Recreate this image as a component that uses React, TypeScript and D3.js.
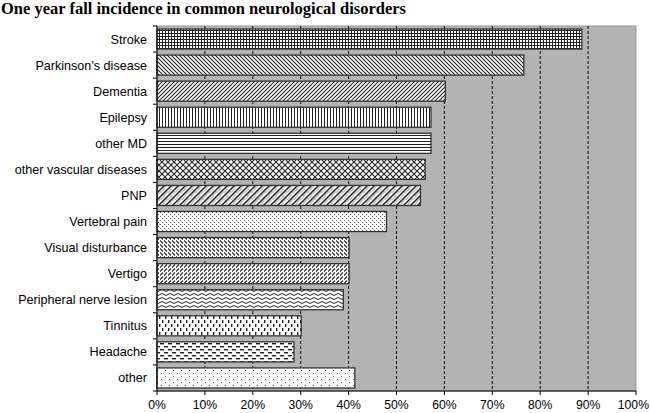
import React from "react";
import * as d3 from "d3";

const categories = [
  "Stroke",
  "Parkinson's disease",
  "Dementia",
  "Epilepsy",
  "other MD",
  "other vascular diseases",
  "PNP",
  "Vertebral pain",
  "Visual disturbance",
  "Vertigo",
  "Peripheral nerve lesion",
  "Tinnitus",
  "Headache",
  "other",
];
const values = [88.7, 76.6, 60.2, 57.2, 57.2, 56.0, 55.0, 47.9, 40.1, 40.1, 38.9, 30.1, 28.6, 41.3];
const patternIds = [
  "grid", "ddiag", "udiag", "vert", "horiz", "diamond", "wideu", "dots25",
  "dashd", "dashu", "wave", "vdash", "hdash", "dots10",
];
const xTicks = [0, 10, 20, 30, 40, 50, 60, 70, 80, 90, 100];

const W = 650, H = 413;
const M = { left: 157, right: 14, top: 26, bottom: 22 };

export default function App() {
  const x = d3.scaleLinear().domain([0, 100]).range([M.left, W - M.right]);
  const y = d3.scaleBand<string>().domain(categories).range([M.top, H - M.bottom]).paddingInner(0.23).paddingOuter(0.115);
  const band = (H - M.bottom - M.top) / categories.length;
  const ink = "#222";
  return (
    <svg width={W} height={H} style={{ position: "absolute", left: 0, top: 0, background: "#fff" }}>
      <defs>
        <pattern id="grid" width="3" height="3" patternUnits="userSpaceOnUse">
          <rect width="3" height="3" fill="#fff" />
          <path d="M0 0.5H3M0.5 0V3" stroke={ink} strokeWidth="1" />
        </pattern>
        <pattern id="ddiag" width="4" height="4" patternUnits="userSpaceOnUse">
          <rect width="4" height="4" fill="#fff" />
          <path d="M-1 -1L5 5M-1 3L1 5M3 -1L5 1" stroke={ink} strokeWidth="1.1" />
        </pattern>
        <pattern id="udiag" width="4" height="4" patternUnits="userSpaceOnUse">
          <rect width="4" height="4" fill="#fff" />
          <path d="M-1 5L5 -1M-1 1L1 -1M3 5L5 3" stroke={ink} strokeWidth="1.1" />
        </pattern>
        <pattern id="vert" width="3" height="3" patternUnits="userSpaceOnUse">
          <rect width="3" height="3" fill="#fff" />
          <path d="M0.5 0V3" stroke={ink} strokeWidth="1" />
        </pattern>
        <pattern id="horiz" width="3" height="3" patternUnits="userSpaceOnUse">
          <rect width="3" height="3" fill="#fff" />
          <path d="M0 0.5H3" stroke={ink} strokeWidth="1" />
        </pattern>
        <pattern id="diamond" width="6" height="6" patternUnits="userSpaceOnUse">
          <rect width="6" height="6" fill="#fff" />
          <path d="M0 0L6 6M6 0L0 6" stroke={ink} strokeWidth="1.1" />
        </pattern>
        <pattern id="wideu" width="7" height="7" patternUnits="userSpaceOnUse">
          <rect width="7" height="7" fill="#fff" />
          <path d="M-1 8L8 -1M-1 1L1 -1M6 8L8 6" stroke={ink} strokeWidth="1.5" />
          <path d="M-1 10.5L10.5 -1M-1 4.5L4.5 -1" stroke="#777" strokeWidth="0.8" />
        </pattern>
        <pattern id="dots25" width="4" height="4" patternUnits="userSpaceOnUse">
          <rect width="4" height="4" fill="#fff" />
          <rect x="0" y="0" width="1" height="1" fill="#555" />
          <rect x="2" y="2" width="1" height="1" fill="#555" />
        </pattern>
        <pattern id="dashd" width="8" height="4" patternUnits="userSpaceOnUse">
          <rect width="8" height="4" fill="#fff" />
          <path d="M0 0.5L3 3.5M4 0.5L7 3.5" stroke={ink} strokeWidth="1.1" />
        </pattern>
        <pattern id="dashu" width="8" height="4" patternUnits="userSpaceOnUse">
          <rect width="8" height="4" fill="#fff" />
          <path d="M0 3.5L3 0.5M4 3.5L7 0.5" stroke={ink} strokeWidth="1.1" />
        </pattern>
        <pattern id="wave" width="8" height="4" patternUnits="userSpaceOnUse">
          <rect width="8" height="4" fill="#fff" />
          <path d="M0 2.5Q2 0.5 4 2.5T8 2.5" stroke={ink} strokeWidth="1" fill="none" />
        </pattern>
        <pattern id="vdash" width="6" height="8" patternUnits="userSpaceOnUse">
          <rect width="6" height="8" fill="#fff" />
          <rect x="0" y="0" width="1.4" height="3" fill={ink} />
          <rect x="3" y="4" width="1.4" height="3" fill={ink} />
        </pattern>
        <pattern id="hdash" width="8" height="6" patternUnits="userSpaceOnUse">
          <rect width="8" height="6" fill="#fff" />
          <rect x="0" y="1" width="4" height="1.4" fill={ink} />
          <rect x="4" y="4" width="4" height="1.4" fill={ink} />
        </pattern>
        <pattern id="dots10" width="8" height="6" patternUnits="userSpaceOnUse">
          <rect width="8" height="6" fill="#fff" />
          <rect x="1" y="1" width="1" height="1" fill="#555" />
          <rect x="5" y="4" width="1" height="1" fill="#555" />
        </pattern>
      </defs>
      <text x={1} y={14} fontFamily="'Liberation Serif', 'Times New Roman', serif" fontWeight="bold" fontSize={16.5} fill="#000">
        One year fall incidence in common neurological disorders
      </text>
      <rect x={x(0)} y={M.top} width={x(100) - x(0)} height={H - M.bottom - M.top} fill="#b3b3b3" stroke="#9a9a9a" strokeWidth={1} />
      {xTicks.slice(1, -1).map((t) => (
        <line key={"g" + t} x1={x(t)} x2={x(t)} y1={M.top} y2={H - M.bottom} stroke="#111" strokeWidth={1} strokeDasharray="3,2" />
      ))}
      {categories.map((c, i) => (
        <rect key={c} x={x(0)} y={y(c)!} width={x(values[i]) - x(0)} height={y.bandwidth()}
          fill={`url(#${patternIds[i]})`} stroke="#333" strokeWidth={1.3} />
      ))}
      <line x1={x(0)} x2={x(100)} y1={H - M.bottom} y2={H - M.bottom} stroke="#000" strokeWidth={1} />
      <line x1={x(0)} x2={x(0)} y1={M.top} y2={H - M.bottom} stroke="#000" strokeWidth={1} />
      {xTicks.map((t, i) => (
        <g key={"t" + t}>
          <line x1={x(t)} x2={x(t)} y1={H - M.bottom} y2={H - M.bottom + 4} stroke="#000" />
          <text x={i === xTicks.length - 1 ? W - 1 : x(t)} y={H - 4}
            textAnchor={i === xTicks.length - 1 ? "end" : "middle"}
            fontFamily="'Liberation Sans', Arial, sans-serif" fontSize={12.2} fill="#000">{t}%</text>
        </g>
      ))}
      {d3.range(categories.length + 1).map((i) => (
        <line key={"yt" + i} x1={x(0) - 4} x2={x(0)} y1={M.top + i * band} y2={M.top + i * band} stroke="#000" />
      ))}
      {categories.map((c) => (
        <text key={"l" + c} x={x(0) - 10} y={y(c)! + y.bandwidth() / 2 + 4.5} textAnchor="end"
          fontFamily="'Liberation Sans', Arial, sans-serif" fontSize={12.6} fill="#000">{c}</text>
      ))}
    </svg>
  );
}
